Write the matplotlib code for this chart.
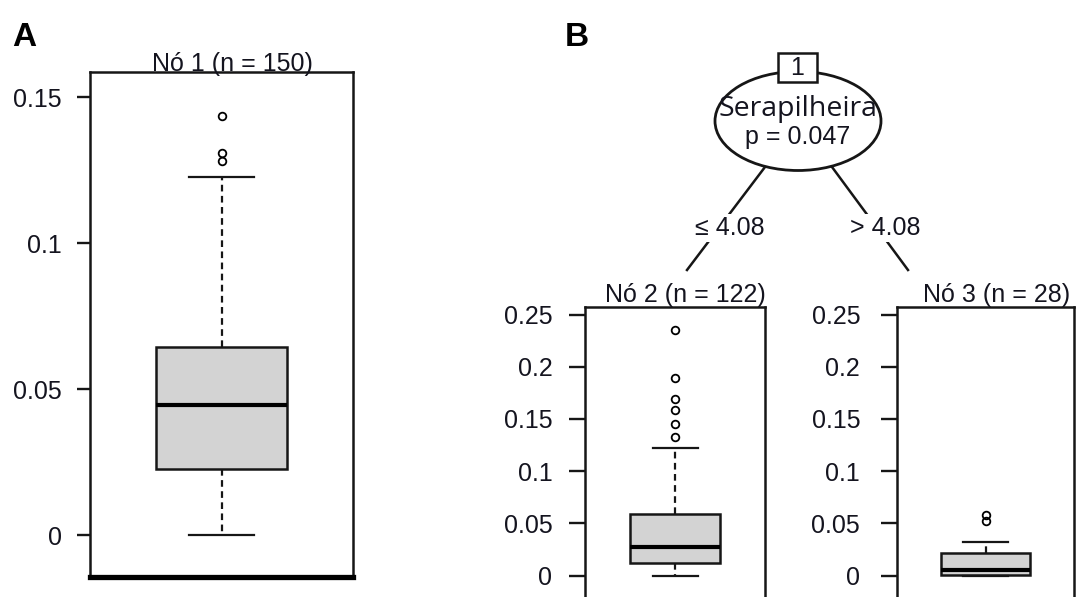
import matplotlib
matplotlib.use("Agg")
import matplotlib.pyplot as plt
from matplotlib.patches import Ellipse, Rectangle

plt.rcParams['font.family'] = ['Liberation Sans', 'DejaVu Sans']

# ---- data: box statistics per node ----
node1_title = "Nó 1 (n = 150)"
node1_whislo, node1_q1, node1_med, node1_q3, node1_whishi = 0.0, 0.0226, 0.0445, 0.0645, 0.1227
node1_fliers = [0.1435, 0.1308, 0.1280]

node2_title = "Nó 2 (n = 122)"
node2_whislo, node2_q1, node2_med, node2_q3, node2_whishi = 0.0, 0.0123, 0.0276, 0.0586, 0.1218
node2_fliers = [0.235, 0.189, 0.169, 0.1585, 0.145, 0.133]

node3_title = "Nó 3 (n = 28)"
node3_whislo, node3_q1, node3_med, node3_q3, node3_whishi = 0.0, 0.0005, 0.0053, 0.0213, 0.0324
node3_fliers = [0.058, 0.0525]

ticks_a = [0, 0.05, 0.1, 0.15]
ticklabels_a = ["0", "0.05", "0.1", "0.15"]
ticks_b = [0, 0.05, 0.1, 0.15, 0.2, 0.25]
ticklabels_b = ["0", "0.05", "0.1", "0.15", "0.2", "0.25"]

split_var = "Serapilheira"
split_p = "p = 0.047"
split_left = "≤ 4.08"
split_right = "> 4.08"

TEXT = "#14141f"
LINE = "#161616"

W, H = 1080, 597
fig = plt.figure(figsize=(W / 100, H / 100), dpi=100)
fig.patch.set_facecolor("white")


def px_axes(left, right, top, bottom):
    return fig.add_axes([left / W, 1 - bottom / H, (right - left) / W, (bottom - top) / H])


def draw_box(ax, whislo, q1, med, q3, whishi, fliers, ylim, ticks, labels, tlen, tpad):
    stats = [dict(whislo=whislo, q1=q1, med=med, q3=q3, whishi=whishi, fliers=fliers)]
    ax.bxp(stats, positions=[1], widths=0.5, capwidths=0.25, patch_artist=True,
           boxprops=dict(facecolor="#d3d3d3", edgecolor=LINE, linewidth=1.8),
           medianprops=dict(color="black", linewidth=3.0, solid_capstyle="butt"),
           whiskerprops=dict(color=LINE, linewidth=1.6, linestyle=(0, (3, 2))),
           capprops=dict(color=LINE, linewidth=1.6),
           flierprops=dict(marker="o", markersize=5.5, markerfacecolor="none",
                           markeredgecolor="black", markeredgewidth=1.3))
    ax.set_xlim(0.5, 1.5)
    ax.set_ylim(*ylim)
    ax.set_xticks([])
    ax.set_yticks(ticks)
    ax.set_yticklabels(labels)
    ax.tick_params(axis="y", length=tlen, width=1.7, pad=tpad, labelsize=18,
                   color=LINE, labelcolor=TEXT)
    for s in ax.spines.values():
        s.set_linewidth(1.8)
        s.set_color(LINE)
    ax.patch.set_alpha(0)


# ---- panel A ----
ax_a = px_axes(90, 353, 72, 577)
draw_box(ax_a, node1_whislo, node1_q1, node1_med, node1_q3, node1_whishi, node1_fliers,
         (-0.01438, 0.1586), ticks_a, ticklabels_a, 9.5, 11)
ax_a.spines["bottom"].set_linewidth(3.8)
ax_a.spines["bottom"].set_color("black")
ax_a.text(0.54, 0.993, node1_title, transform=ax_a.transAxes, ha="center", va="bottom",
          fontsize=18, color=TEXT, zorder=10)

# ---- panel B terminal nodes ----
ylim_b = (-0.0426, 0.2572)
ax_2 = px_axes(585, 765, 307, 620)
draw_box(ax_2, node2_whislo, node2_q1, node2_med, node2_q3, node2_whishi, node2_fliers,
         ylim_b, ticks_b, ticklabels_b, 11.5, 12)
ax_2.text(0.56, 1.0, node2_title, transform=ax_2.transAxes, ha="center", va="bottom",
          fontsize=18, color=TEXT)

ax_3 = px_axes(897, 1074, 307, 620)
draw_box(ax_3, node3_whislo, node3_q1, node3_med, node3_q3, node3_whishi, node3_fliers,
         ylim_b, ticks_b, ticklabels_b, 11.5, 15)
ax_3.text(0.56, 1.0, node3_title, transform=ax_3.transAxes, ha="center", va="bottom",
          fontsize=18, color=TEXT)

# ---- panel B inner node and edges (drawn in pixel space) ----
tree = fig.add_axes([0, 0, 1, 1], zorder=5)
tree.set_xlim(0, W)
tree.set_ylim(H, 0)
tree.axis("off")
tree.patch.set_alpha(0)

# edges from the split node to the terminal nodes
tree.plot([765, 687], [167, 270], color=LINE, lw=1.8, zorder=1)
tree.plot([832, 908], [167, 270], color=LINE, lw=1.8, zorder=1)
tree.text(730, 228, split_left, ha="center", va="center", fontsize=18, color=TEXT,
          bbox=dict(facecolor="white", edgecolor="none", pad=1.5), zorder=3)
tree.text(885, 228, split_right, ha="center", va="center", fontsize=18, color=TEXT,
          bbox=dict(facecolor="white", edgecolor="none", pad=1.5), zorder=3)

tree.add_patch(Ellipse((798, 121), 166, 99, facecolor="white", edgecolor=LINE,
                       lw=2.0, zorder=4))
tree.text(798, 109, split_var, ha="center", va="center", fontsize=20.5,
          family=["Open Sans", "DejaVu Sans"], color=TEXT, zorder=5)
tree.text(798, 137, split_p, ha="center", va="center", fontsize=18, color=TEXT, zorder=5)
tree.add_patch(Rectangle((778, 53), 39, 29, facecolor="white", edgecolor=LINE,
                         lw=1.8, zorder=6))
tree.text(797.5, 68, "1", ha="center", va="center", fontsize=18, color=TEXT, zorder=7)

# panel letters
tree.text(24, 37, "A", ha="center", va="center", fontsize=24, fontweight="bold", color="black")
tree.text(577, 38, "B", ha="center", va="center", fontsize=24, fontweight="bold", color="black")

fig.savefig("out.png", dpi=100)
